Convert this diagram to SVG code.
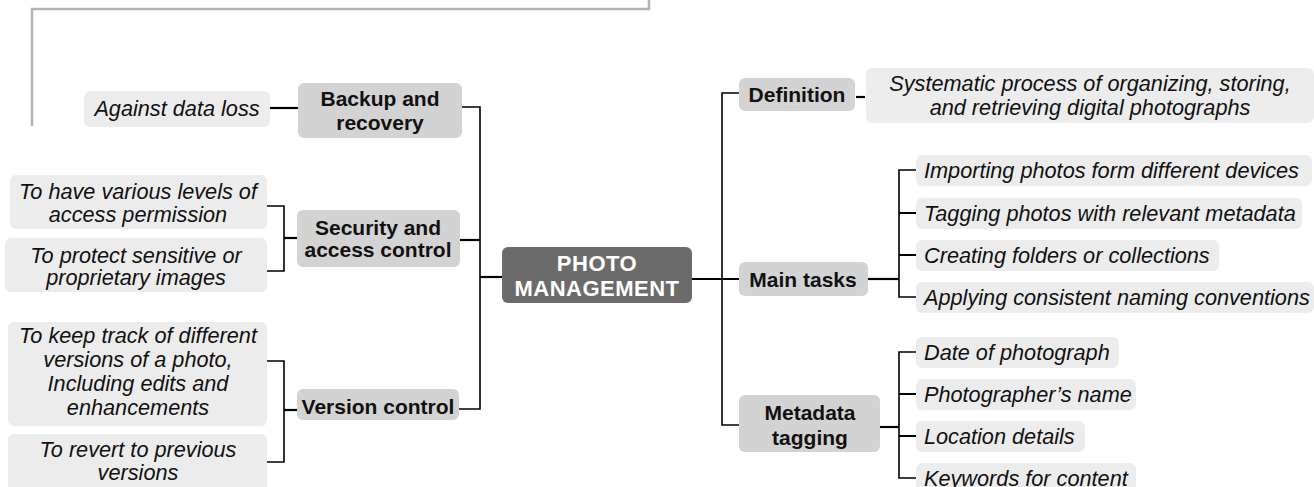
<svg xmlns="http://www.w3.org/2000/svg" width="1314" height="487" viewBox="0 0 1314 487">
<style>
.frame{fill:none;stroke:#b3b3b3;stroke-width:2.5}
.ln{fill:none;stroke:#000;stroke-width:1.6}
.lnb{fill:none;stroke:#000;stroke-width:2.2}
.center{fill:#6b6b6b}
.branch{fill:#d3d3d3}
.leaf{fill:#ececec}
.tc{font-family:"Liberation Sans",Arial,sans-serif;font-weight:bold;font-size:22px;fill:#fff;text-anchor:middle;letter-spacing:0.5px}
.tb{font-family:"Liberation Sans",Arial,sans-serif;font-weight:bold;font-size:21px;fill:#111;text-anchor:middle}
.ti{font-family:"Liberation Sans",Arial,sans-serif;font-style:italic;font-size:21.7px;fill:#111;text-anchor:middle}
.tl{font-family:"Liberation Sans",Arial,sans-serif;font-style:italic;font-size:21.7px;fill:#111}
</style>
<path class="frame" d="M32,126 V9 H649 V0"/>
<g id="connectors">
<path class="lnb" d="M502,277 H480"/>
<path class="ln" d="M462,107 H480 V409 H459"/>
<path class="lnb" d="M460,240 H480"/>
<path class="lnb" d="M270,108 H298"/>
<path class="ln" d="M267,206 H284 V271 H267"/>
<path class="lnb" d="M284,238 H297"/>
<path class="ln" d="M267,361 H284 V462 H267"/>
<path class="lnb" d="M284,410 H297"/>
<path class="lnb" d="M692,279 H740"/>
<path class="ln" d="M739,93 H722 V425 H739"/>
<path class="lnb" d="M856,97 H865"/>
<path class="lnb" d="M868,279 H899"/>
<path class="ln" d="M916,170 H899 V297 H916"/>
<path class="lnb" d="M899,213 H916 M899,255 H916"/>
<path class="lnb" d="M880,427 H899"/>
<path class="ln" d="M916,352 H899 V478 H916"/>
<path class="lnb" d="M899,394 H916 M899,436 H916"/>
</g>
<g id="center">
<rect class="center" x="502" y="247" width="190" height="56" rx="6"/>
<text class="tc" x="597" y="271">PHOTO</text>
<text class="tc" x="597" y="296">MANAGEMENT</text>
</g>
<g id="backup">
<rect class="branch" x="298" y="83" width="164" height="55" rx="6"/>
<text class="tb" x="380" y="106">Backup and</text>
<text class="tb" x="380" y="130">recovery</text>
</g>
<g id="backup-1">
<rect class="leaf" x="84" y="91" width="186" height="36" rx="6"/>
<text class="ti" x="177" y="116">Against data loss</text>
</g>
<g id="security">
<rect class="branch" x="297" y="210" width="163" height="57" rx="6"/>
<text class="tb" x="378" y="235">Security and</text>
<text class="tb" x="378" y="257">access control</text>
</g>
<g id="security-1">
<rect class="leaf" x="10" y="175" width="257" height="54" rx="6"/>
<text class="ti" x="138" y="199">To have various levels of</text>
<text class="ti" x="138" y="222">access permission</text>
</g>
<g id="security-2">
<rect class="leaf" x="5" y="238" width="262" height="54" rx="6"/>
<text class="ti" x="136" y="263">To protect sensitive or</text>
<text class="ti" x="136" y="285">proprietary images</text>
</g>
<g id="version">
<rect class="branch" x="297" y="389" width="162" height="31" rx="6"/>
<text class="tb" x="378" y="414">Version control</text>
</g>
<g id="version-1">
<rect class="leaf" x="8" y="322" width="259" height="104" rx="6"/>
<text class="ti" x="138" y="343">To keep track of different</text>
<text class="ti" x="138" y="367">versions of a photo,</text>
<text class="ti" x="138" y="391">Including edits and</text>
<text class="ti" x="138" y="415">enhancements</text>
</g>
<g id="version-2">
<rect class="leaf" x="8" y="434" width="259" height="60" rx="6"/>
<text class="ti" x="138" y="457">To revert to previous</text>
<text class="ti" x="138" y="480">versions</text>
</g>
<g id="definition">
<rect class="branch" x="739" y="78" width="116" height="33" rx="6"/>
<text class="tb" x="797" y="102">Definition</text>
</g>
<g id="definition-1">
<rect class="leaf" x="866" y="68" width="448" height="55" rx="6"/>
<text class="ti" x="1090" y="91">Systematic process of organizing, storing,</text>
<text class="ti" x="1090" y="115">and retrieving digital photographs</text>
</g>
<g id="tasks">
<rect class="branch" x="739" y="262" width="129" height="34" rx="6"/>
<text class="tb" x="803" y="287">Main tasks</text>
</g>
<g id="tasks-1">
<rect class="leaf" x="916" y="155" width="396" height="31" rx="6"/>
<text class="tl" x="924" y="178">Importing photos form different devices</text>
</g>
<g id="tasks-2">
<rect class="leaf" x="916" y="198" width="386" height="31" rx="6"/>
<text class="tl" x="924" y="221">Tagging photos with relevant metadata</text>
</g>
<g id="tasks-3">
<rect class="leaf" x="916" y="240" width="303" height="31" rx="6"/>
<text class="tl" x="924" y="263">Creating folders or collections</text>
</g>
<g id="tasks-4">
<rect class="leaf" x="916" y="282" width="398" height="31" rx="6"/>
<text class="tl" x="924" y="305">Applying consistent naming conventions</text>
</g>
<g id="metadata">
<rect class="branch" x="739" y="395" width="141" height="57" rx="6"/>
<text class="tb" x="810" y="420">Metadata</text>
<text class="tb" x="810" y="445">tagging</text>
</g>
<g id="metadata-1">
<rect class="leaf" x="916" y="337" width="203" height="31" rx="6"/>
<text class="tl" x="924" y="360">Date of photograph</text>
</g>
<g id="metadata-2">
<rect class="leaf" x="916" y="379" width="220" height="31" rx="6"/>
<text class="tl" x="924" y="402">Photographer’s name</text>
</g>
<g id="metadata-3">
<rect class="leaf" x="916" y="421" width="169" height="31" rx="6"/>
<text class="tl" x="924" y="444">Location details</text>
</g>
<g id="metadata-4">
<rect class="leaf" x="916" y="463" width="220" height="31" rx="6"/>
<text class="tl" x="924" y="486">Keywords for content</text>
</g>
</svg>
